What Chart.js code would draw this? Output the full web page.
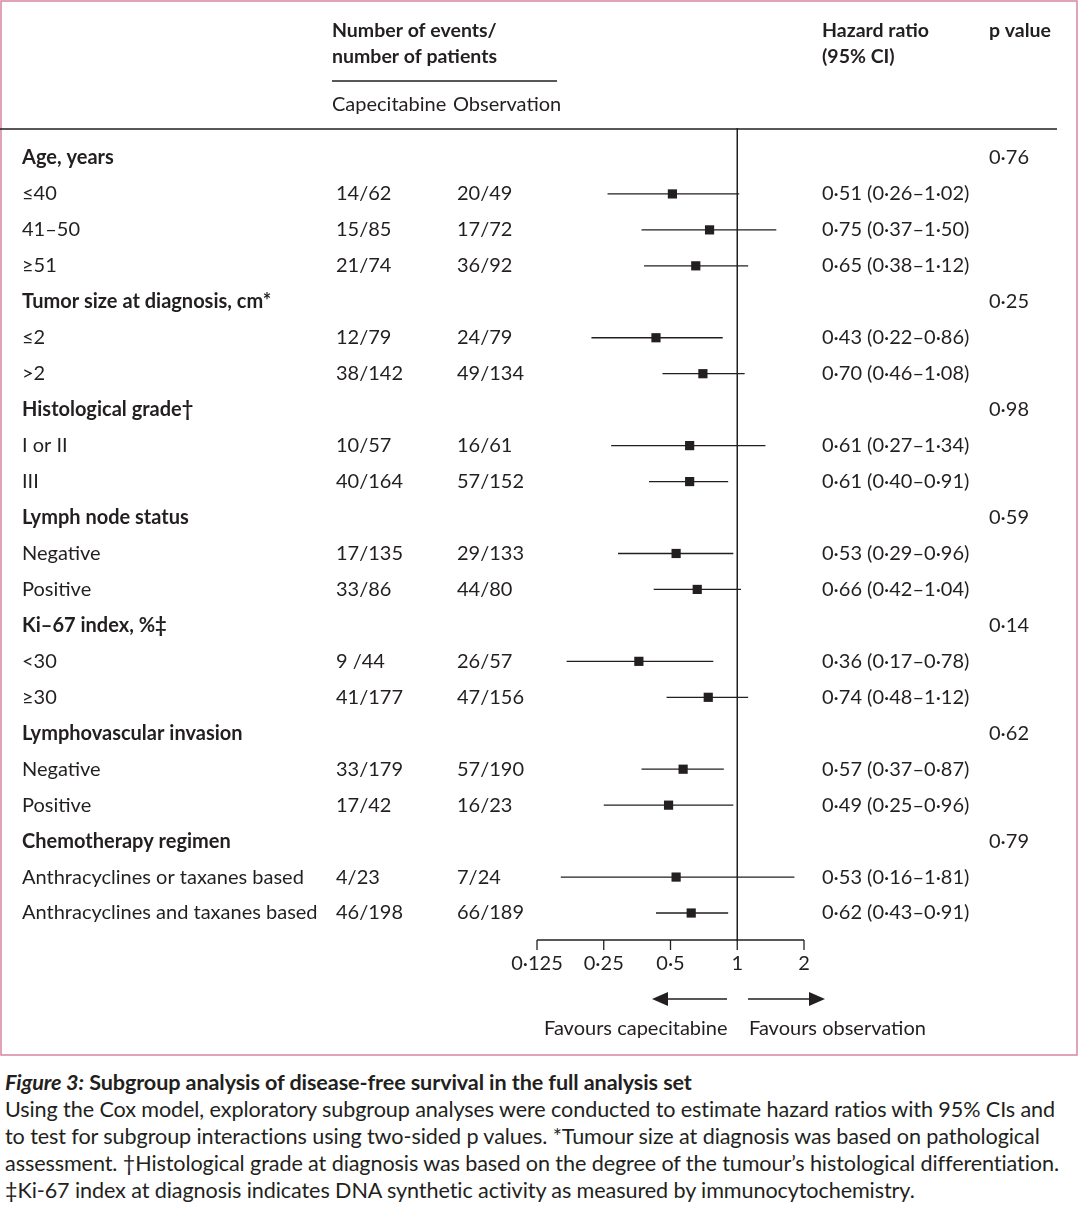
<!DOCTYPE html>
<html><head><meta charset="utf-8">
<script src="https://cdn.jsdelivr.net/npm/chart.js@4"></script>
<style>
body{margin:0;background:#fff;font-family:Lato,"Open Sans",sans-serif;color:#231f20}
#wrap{position:relative;width:1080px;height:1058px}
#cap{position:absolute;left:5px;top:1069px;width:1078px;font-size:21.6px;line-height:27px;white-space:nowrap;letter-spacing:-0.1px}
</style></head><body>
<div id="wrap"><canvas id="c" width="1080" height="1058"></canvas></div>
<div id="cap"><b><i>Figure 3:</i> Subgroup analysis of disease-free survival in the full analysis set</b><br>
Using the Cox model, exploratory subgroup analyses were conducted to estimate hazard ratios with 95% CIs and<br>
to test for subgroup interactions using two-sided p values. *Tumour size at diagnosis was based on pathological<br>
assessment. †Histological grade at diagnosis was based on the degree of the tumour’s histological differentiation.<br>
‡Ki-67 index at diagnosis indicates DNA synthetic activity as measured by immunocytochemistry.</div>
<script>
const labels=["Age, years","≤40","41–50","≥51","Tumor size at diagnosis, cm*","≤2",">2","Histological grade†","I or II","III","Lymph node status","Negative","Positive","Ki–67 index, %‡","<30","≥30","Lymphovascular invasion","Negative","Positive","Chemotherapy regimen","Anthracyclines or taxanes based","Anthracyclines and taxanes based"];
const isHeader=[1,0,0,0,1,0,0,1,0,0,1,0,0,1,0,0,1,0,0,1,0,0];
const capecitabine=["","14/62","15/85","21/74","","12/79","38/142","","10/57","40/164","","17/135","33/86","","9 /44","41/177","","33/179","17/42","","4/23","46/198"];
const observation=["","20/49","17/72","36/92","","24/79","49/134","","16/61","57/152","","29/133","44/80","","26/57","47/156","","57/190","16/23","","7/24","66/189"];
const hr=[null,0.51,0.75,0.65,null,0.43,0.70,null,0.61,0.61,null,0.53,0.66,null,0.36,0.74,null,0.57,0.49,null,0.53,0.62];
const lo=[null,0.26,0.37,0.38,null,0.22,0.46,null,0.27,0.40,null,0.29,0.42,null,0.17,0.48,null,0.37,0.25,null,0.16,0.43];
const hi=[null,1.02,1.50,1.12,null,0.86,1.08,null,1.34,0.91,null,0.96,1.04,null,0.78,1.12,null,0.87,0.96,null,1.81,0.91];
const pvals=["0·76","","","","0·25","","","0·98","","","0·59","","","0·14","","","0·62","","","0·79","",""];
const ticks=[0.125,0.25,0.5,1,2];
const tickLabels=["0·125","0·25","0·5","1","2"];
const fmt=v=>v.toFixed(2).replace('.','·');
const pts=[];hr.forEach((v,i)=>{if(v!=null)pts.push({x:v,y:i});});
const F='Lato, "Open Sans", sans-serif';
const ink='#231f20';
const plug={id:'forest',
beforeDatasetsDraw(ch){const c=ch.ctx,x=ch.scales.x,y=ch.scales.y;c.save();c.strokeStyle=ink;c.lineWidth=1.3;
 hr.forEach((v,i)=>{if(v==null)return;const py=y.getPixelForValue(i);c.beginPath();c.moveTo(x.getPixelForValue(lo[i]),py);c.lineTo(x.getPixelForValue(hi[i]),py);c.stroke();});
 const x1=x.getPixelForValue(1);c.lineWidth=1.5;c.beginPath();c.moveTo(x1,128);c.lineTo(x1,941);c.stroke();c.restore();},
afterDraw(ch){const c=ch.ctx,x=ch.scales.x,y=ch.scales.y;c.save();c.fillStyle=ink;c.strokeStyle=ink;c.textBaseline='middle';
 c.strokeStyle='#d5879d';c.lineWidth=1.5;c.strokeRect(1,1,1076,1054);c.strokeStyle=ink;
 c.font='bold 19.5px '+F;c.fillText('Number of events/',332,31);c.fillText('number of patients',332,57);
 c.fillText('Hazard ratio',822,31);c.fillText('p value',989,31);
 c.font='bold 19.5px '+F;c.fillText('(95% CI)',822,57);
 c.font='20px '+F;
 c.lineWidth=1.3;c.beginPath();c.moveTo(332,81);c.lineTo(557,81);c.stroke();
 c.fillText('Capecitabine',332,105);c.fillText('Observation',453,105);
 c.beginPath();c.moveTo(0,129);c.lineTo(1057,129);c.stroke();
 labels.forEach((l,i)=>{const py=y.getPixelForValue(i);c.font=(isHeader[i]?'bold ':'')+'20px '+F;c.fillText(l,22,py);
  c.font='20px '+F;c.fillText(capecitabine[i],336,py);c.fillText(observation[i],457,py);
  if(hr[i]!=null)c.fillText(fmt(hr[i])+' ('+fmt(lo[i])+'–'+fmt(hi[i])+')',822,py);
  c.fillText(pvals[i],989,py);});
 const ay=940;c.beginPath();c.moveTo(x.getPixelForValue(0.125),ay);c.lineTo(x.getPixelForValue(2),ay);c.stroke();
 c.textAlign='center';
 ticks.forEach((t,k)=>{const px=x.getPixelForValue(t);c.beginPath();c.moveTo(px,ay);c.lineTo(px,ay+10);c.stroke();c.fillText(tickLabels[k],px,964);});
 c.lineWidth=1.5;c.beginPath();c.moveTo(727,999);c.lineTo(665,999);c.moveTo(748,999);c.lineTo(810,999);c.stroke();
 c.beginPath();c.moveTo(652,999);c.lineTo(668,992);c.lineTo(668,1006);c.closePath();c.fill();
 c.beginPath();c.moveTo(825,999);c.lineTo(809,992);c.lineTo(809,1006);c.closePath();c.fill();
 c.textAlign='left';c.fillText('Favours capecitabine',544,1029);c.fillText('Favours observation',749,1029);
 c.restore();}};
new Chart(document.getElementById('c'),{type:'scatter',
data:{datasets:[{data:pts,pointStyle:'rect',pointRadius:6.5,backgroundColor:ink,borderColor:ink,borderWidth:0}]},
options:{responsive:false,animation:false,events:[],
 layout:{padding:{left:537,right:276,top:140,bottom:127}},
 plugins:{legend:{display:false},tooltip:{enabled:false}},
 scales:{x:{type:'logarithmic',min:0.125,max:2,display:false},
  y:{type:'linear',min:-0.5,max:21.5,reverse:true,display:false}}},
plugins:[plug]});
</script></body></html>
